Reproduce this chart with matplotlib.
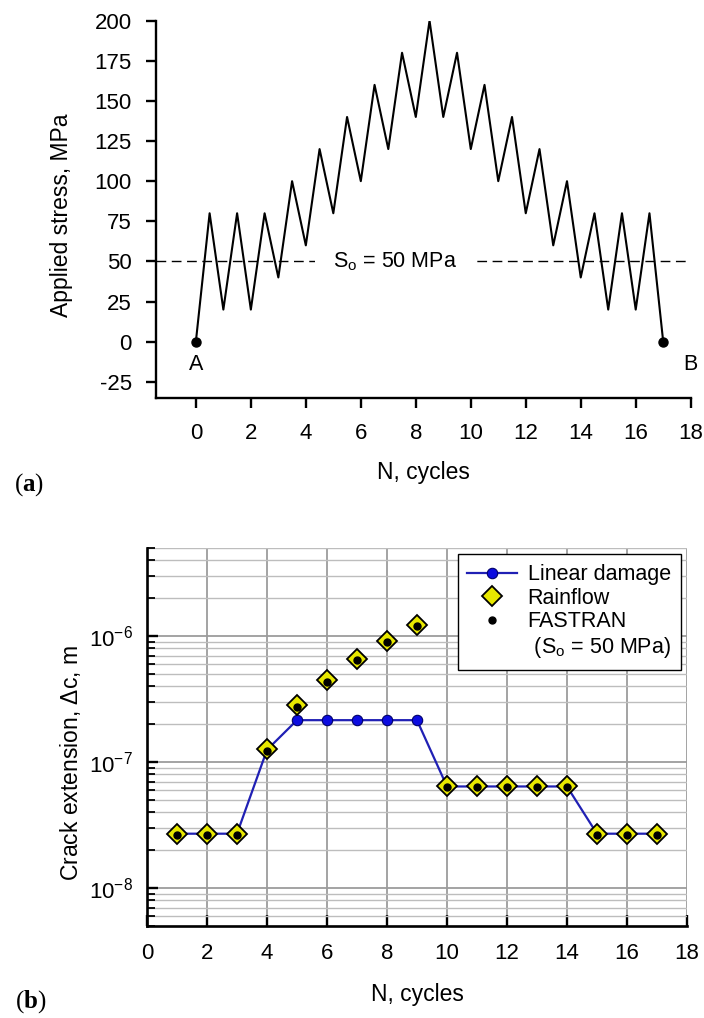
import matplotlib
matplotlib.use('Agg')
import matplotlib.pyplot as plt
from matplotlib.ticker import LogLocator, NullFormatter

plt.rcParams['font.family'] = ['Liberation Sans', 'DejaVu Sans']
plt.rcParams['axes.unicode_minus'] = False
plt.rcParams['mathtext.fontset'] = 'custom'
plt.rcParams['mathtext.rm'] = 'Liberation Sans'
plt.rcParams['mathtext.bf'] = 'Liberation Serif:bold'

# (a) load sequence
seq_n = [0, 0.5, 1, 1.5, 2, 2.5, 3, 3.5, 4, 4.5, 5, 5.5, 6, 6.5, 7, 7.5, 8, 8.5,
         9, 9.5, 10, 10.5, 11, 11.5, 12, 12.5, 13, 13.5, 14, 14.5, 15, 15.5, 16, 16.5, 17]
seq_stress = [0, 80, 20, 80, 20, 80, 40, 100, 60, 120, 80, 140, 100, 160, 120, 180, 140, 200,
              140, 180, 120, 160, 100, 140, 80, 120, 60, 100, 40, 80, 20, 80, 20, 80, 0]
end_n = [0, 17]
end_stress = [0, 0]
s_open = 50

# (b) crack extension per cycle
cycles = [1, 2, 3, 4, 5, 6, 7, 8, 9, 10, 11, 12, 13, 14, 15, 16, 17]
linear = [2.7e-8, 2.7e-8, 2.7e-8, 1.25e-7, 2.15e-7, 2.15e-7, 2.15e-7, 2.15e-7, 2.15e-7,
          6.4e-8, 6.4e-8, 6.4e-8, 6.4e-8, 6.4e-8, 2.7e-8, 2.7e-8, 2.7e-8]
rainflow = [2.7e-8, 2.7e-8, 2.7e-8, 1.26e-7, 2.82e-7, 4.45e-7, 6.6e-7, 9.2e-7, 1.23e-6,
            6.4e-8, 6.4e-8, 6.4e-8, 6.4e-8, 6.4e-8, 2.7e-8, 2.7e-8, 2.7e-8]
fastran = [2.65e-8, 2.65e-8, 2.65e-8, 1.22e-7, 2.75e-7, 4.35e-7, 6.5e-7, 9.0e-7, 1.2e-6,
           6.3e-8, 6.3e-8, 6.3e-8, 6.3e-8, 6.3e-8, 2.65e-8, 2.65e-8, 2.65e-8]

fig = plt.figure(figsize=(7.04, 10.18), dpi=100)

# ---- top panel
ax1 = fig.add_axes([0.2216, 0.6095, 0.7595, 0.3702])
ax1.plot(seq_n, seq_stress, color='black', lw=1.5, zorder=4)
ax1.plot(end_n, end_stress, 'o', color='black', ms=6.5, zorder=5)
ax1.axhline(s_open, color='black', lw=1.0, ls=(0, (7, 4)), zorder=2)
ax1.text(7.25, s_open, r'$\mathregular{S_o}$ = 50 MPa', fontsize=15.5, ha='center', va='center',
         zorder=3, bbox=dict(boxstyle='square,pad=0.85', fc='white', ec='none'))
ax1.text(0, -14.5, 'A', fontsize=15.5, ha='center', va='center')
ax1.text(18, -14.5, 'B', fontsize=15.5, ha='center', va='center', clip_on=False)
ax1.set_xlim(-1.45, 18)
ax1.set_ylim(-34.8, 200)
ax1.set_xticks([0, 2, 4, 6, 8, 10, 12, 14, 16, 18])
ax1.set_yticks([-25, 0, 25, 50, 75, 100, 125, 150, 175, 200])
for s in ['top', 'right']:
    ax1.spines[s].set_visible(False)
for s in ['left', 'bottom']:
    ax1.spines[s].set_linewidth(1.7)
ax1.tick_params(axis='both', direction='out', length=7.5, width=1.7, labelsize=16)
ax1.tick_params(axis='x', pad=11)
ax1.tick_params(axis='y', pad=10)
ax1.set_ylabel('Applied stress, MPa', fontsize=16.5)
ax1.set_xlabel('N, cycles', fontsize=16.5)
ax1.yaxis.set_label_coords(-0.155, 0.484)
ax1.xaxis.set_label_coords(0.5, -0.1685)

# ---- bottom panel
ax2 = fig.add_axes([0.2088, 0.0904, 0.767, 0.3713])
ax2.set_yscale('log')
ax2.plot(cycles, linear, '-o', color='#2020b4', lw=1.6, ms=7.5, mfc='#0c0ce0', mec='#00006a',
         mew=0.8, zorder=4, label='Linear damage')
ax2.plot(cycles, rainflow, 'D', ms=10, mfc='#e8e800', mec='black', mew=1.3, zorder=5,
         label='Rainflow')
ax2.plot(cycles, fastran, 'o', ms=5, color='black', zorder=6, label='FASTRAN')
ax2.plot([], [], ' ', label=r' ($\mathregular{S_o}$ = 50 MPa)')
ax2.set_xlim(0, 18)
ax2.set_ylim(5e-9, 5e-6)
ax2.set_xticks([0, 2, 4, 6, 8, 10, 12, 14, 16, 18])
ax2.yaxis.set_major_locator(LogLocator(base=10, numticks=10))
ax2.yaxis.set_minor_locator(LogLocator(base=10, subs=[2, 3, 4, 5, 6, 7, 8, 9], numticks=10))
ax2.yaxis.set_minor_formatter(NullFormatter())
ax2.grid(True, which='major', axis='both', color='#9c9c9c', lw=1.3)
ax2.grid(True, which='minor', axis='y', color='#bdbdbd', lw=1.0)
ax2.set_axisbelow(True)
for s in ['top', 'right']:
    ax2.spines[s].set_visible(False)
for s in ['left', 'bottom']:
    ax2.spines[s].set_linewidth(1.9)
ax2.tick_params(axis='both', which='major', direction='in', length=8, width=1.7, labelsize=16)
ax2.tick_params(axis='y', which='minor', direction='in', length=6, width=1.3)
ax2.tick_params(axis='x', pad=12)
ax2.tick_params(axis='y', pad=10)
ax2.set_ylabel(r'Crack extension, $\mathregular{\Delta}$c, m', fontsize=16.5)
ax2.set_xlabel('N, cycles', fontsize=16.5)
ax2.yaxis.set_label_coords(-0.1185, 0.431)
ax2.xaxis.set_label_coords(0.5, -0.151)
leg = ax2.legend(loc='upper right', fontsize=15.5, frameon=True, fancybox=False, framealpha=1,
                 edgecolor='black', borderaxespad=0.3, labelspacing=0.12, handlelength=2.3,
                 handletextpad=0.5, borderpad=0.45)
leg.get_frame().set_linewidth(1.0)

fig.text(0.041, 1 - 485 / 1018, r'($\mathbf{a}$)', fontsize=18, family='Liberation Serif',
         ha='center', va='center')
fig.text(0.044, 1 - 1002 / 1018, r'($\mathbf{b}$)', fontsize=18, family='Liberation Serif',
         ha='center', va='center')

fig.savefig('out.png', dpi=100)
